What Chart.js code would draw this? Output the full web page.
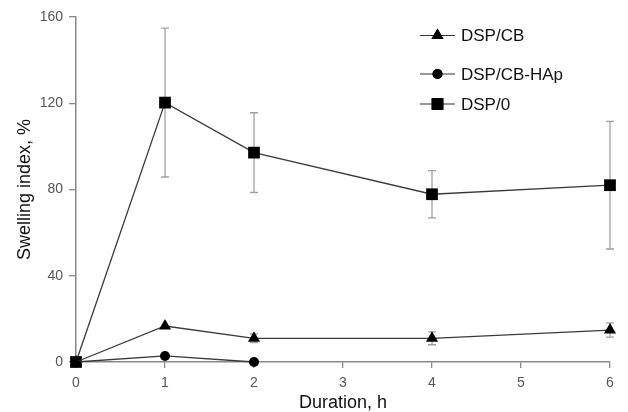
<!DOCTYPE html>
<html><head><meta charset="utf-8">
<script src="https://cdn.jsdelivr.net/npm/chart.js@4/dist/chart.umd.min.js"></script>
<style>html,body{margin:0;padding:0;background:#fff}#wrap{width:628px;height:412px}</style>
</head><body><div id="wrap"><canvas id="c" width="628" height="412"></canvas></div>
<script>
const durations = [0, 1, 2, 4, 6];
const durationsHAp = [0, 1, 2];
const dspCB = [0, 16.7, 11, 11, 14.8];
const dspCBErr = [0, 0, 2, 3, 3.3];
const dspCBHAp = [0, 2.8, 0];
const dspCBHApErr = [0, 0, 0];
const dsp0 = [0, 120.3, 97.1, 77.8, 82];
const dsp0Err = [0, 34.5, 18.5, 11, 29.6];
const xTicks = [0, 1, 2, 3, 4, 5, 6];
const yTicks = [0, 40, 80, 120, 160];

const pts = (xs, ys) => xs.map((x, i) => ({x: x, y: ys[i]}));
const FONT = "'Liberation Sans', Arial, sans-serif";

const errorBars = {
  id: 'errorBars',
  beforeDatasetsDraw(chart) {
    const ctx = chart.ctx, xs = chart.scales.x, ys = chart.scales.y;
    ctx.save();
    ctx.strokeStyle = '#a0a0a0';
    ctx.lineWidth = 1.3;
    chart.data.datasets.forEach(ds => {
      (ds.err || []).forEach((e, i) => {
        if (!e) return;
        const p = ds.data[i];
        const px = xs.getPixelForValue(p.x);
        const t = ys.getPixelForValue(p.y + e), b = ys.getPixelForValue(p.y - e);
        ctx.beginPath();
        ctx.moveTo(px, t); ctx.lineTo(px, b);
        ctx.moveTo(px - 4, t); ctx.lineTo(px + 4, t);
        ctx.moveTo(px - 4, b); ctx.lineTo(px + 4, b);
        ctx.stroke();
      });
    });
    ctx.restore();
  }
};

const customLegend = {
  id: 'customLegend',
  afterDraw(chart) {
    const ctx = chart.ctx;
    const ys = [35.5, 74, 104];
    ctx.save();
    chart.data.datasets.forEach((ds, i) => {
      const y = ys[i];
      ctx.strokeStyle = '#333';
      ctx.lineWidth = 1.2;
      ctx.beginPath(); ctx.moveTo(420, y); ctx.lineTo(455, y); ctx.stroke();
      Chart.helpers.drawPoint(ctx, {pointStyle: ds.pointStyle, radius: ds.pointRadius, rotation: 0, borderWidth: 0}, 437.5, y);
      ctx.fillStyle = '#000';
      ctx.fill();
      ctx.fillStyle = '#111';
      ctx.font = '17px ' + FONT;
      ctx.textBaseline = 'middle';
      ctx.textAlign = 'left';
      ctx.fillText(ds.label, 461, y + 1);
    });
    ctx.restore();
  }
};

const common = {showLine: true, clip: false, borderColor: '#3a3a3a', borderWidth: 1.3, backgroundColor: '#000', pointBorderColor: '#000', pointBackgroundColor: '#000', pointBorderWidth: 0, tension: 0};

new Chart(document.getElementById('c'), {
  type: 'scatter',
  data: {
    datasets: [
      Object.assign({label: 'DSP/CB', data: pts(durations, dspCB), err: dspCBErr, pointStyle: 'triangle', pointRadius: 7}, common),
      Object.assign({label: 'DSP/CB-HAp', data: pts(durationsHAp, dspCBHAp), err: dspCBHApErr, pointStyle: 'circle', pointRadius: 5}, common),
      Object.assign({label: 'DSP/0', data: pts(durations, dsp0), err: dsp0Err, pointStyle: 'rect', pointRadius: 8.3}, common)
    ]
  },
  options: {
    responsive: false,
    animation: false,
    layout: {padding: {top: 17, right: 18, left: 0, bottom: 0}},
    plugins: {legend: {display: false}, tooltip: {enabled: false}},
    scales: {
      x: {
        type: 'linear', min: 0, max: 6,
        afterFit(s) { s.height = 50; },
        afterBuildTicks(s) { s.ticks = xTicks.map(v => ({value: v})); },
        grid: {display: true, drawOnChartArea: false, tickLength: 6, color: '#888', lineWidth: 1.3},
        border: {color: '#888', width: 1.5},
        ticks: {color: '#555', font: {family: FONT, size: 14}, padding: 7},
        title: {display: true, text: 'Duration, h', color: '#111', font: {family: FONT, size: 18}, padding: {top: 0, bottom: -2}}
      },
      y: {
        min: 0, max: 160,
        afterFit(s) { s.width = 76; },
        afterBuildTicks(s) { s.ticks = yTicks.map(v => ({value: v})); },
        grid: {display: true, drawOnChartArea: false, tickLength: 7, color: '#888', lineWidth: 1.3},
        border: {color: '#888', width: 1.5},
        ticks: {color: '#555', font: {family: FONT, size: 14}, padding: 6},
        title: {display: true, text: 'Swelling index, %', color: '#111', font: {family: FONT, size: 18}, padding: {top: 14, bottom: 0}}
      }
    }
  },
  plugins: [errorBars, customLegend]
});
</script></body></html>
